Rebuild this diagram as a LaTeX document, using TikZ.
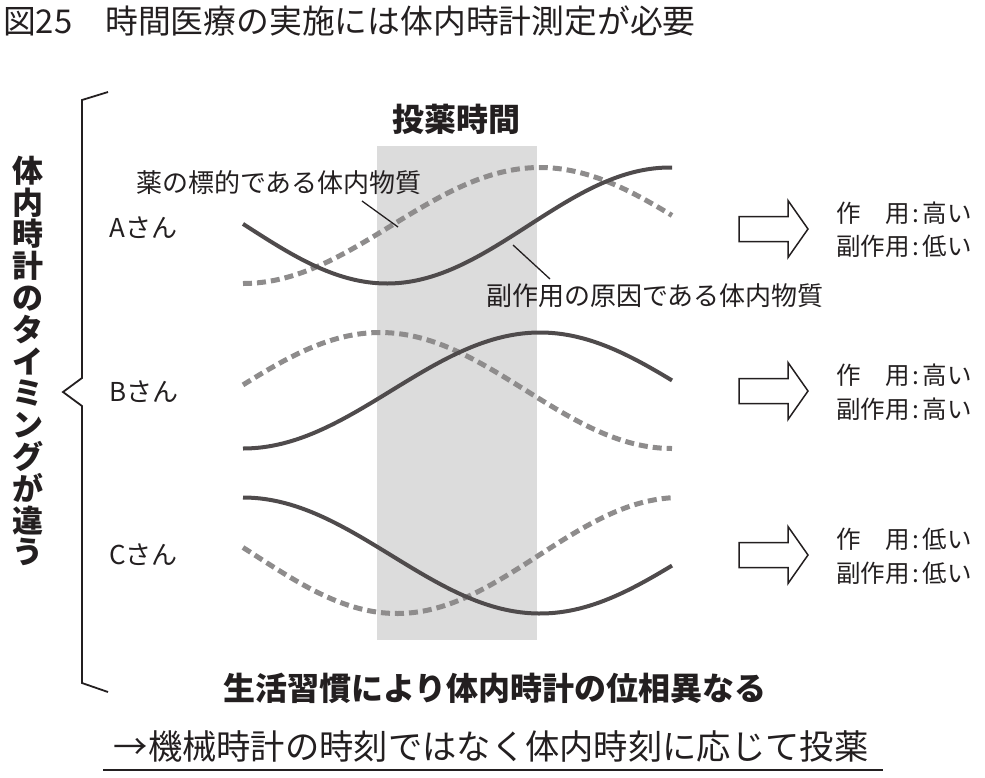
\documentclass[tikz,border=0pt]{standalone}
\usepackage{fontspec}
\setmainfont{Noto Sans CJK JP}
\definecolor{ink}{HTML}{231F20}
\definecolor{boxgray}{HTML}{DCDCDC}
\definecolor{solidgray}{HTML}{4F4B4C}
\definecolor{dashgray}{HTML}{8E8C8C}
\newcommand{\rcolon}{\kern3pt:\kern3pt}
\tikzset{
  solidc/.style={draw=solidgray, line width=4pt},
  dashc/.style={draw=dashgray, line width=5pt, dash pattern=on 9pt off 5pt},
  leader/.style={draw=ink, line width=1.3pt},
  lbl/.style={anchor=west, font=\fontsize{26}{26}\selectfont},
  res/.style={anchor=west, font=\fontsize{24.5}{24.5}\selectfont},
  barrow/.pic={\draw[ink, line width=1.5pt, line join=miter]
     (0,-12.5) -- (49,-12.5) -- (49,-28.5) -- (69,0) -- (49,28.5) -- (49,12.5) -- (0,12.5) -- cycle;}
}
\begin{document}
\begin{tikzpicture}[x=1pt,y=-1pt, every node/.style={inner sep=0pt, text=ink}]
\useasboundingbox (0,0) rectangle (985,777);
% title
\node[anchor=west, font=\fontsize{32.8}{32.8}\selectfont] (title) at (3,21) {図25　時間医療の実施には体内時計測定が必要};
% gray band
\fill[boxgray] (377,146) rectangle (537,640);
\node[font=\bfseries\fontsize{32}{32}\selectfont] (toyaku) at (456,119) {投薬時間};
% brace
\draw[ink, line width=1.8pt, line join=miter] (108,92) -- (82,100) -- (82,378) -- (63,392) -- (82,406) -- (82,683) -- (108,692);
% vertical text
\node[align=center, font=\bfseries\fontsize{31}{31.8}\selectfont] (vt) at (28,361)
  {体\\内\\時\\計\\の\\タ\\イ\\ミ\\ン\\グ\\が\\違\\う};
% person labels
\node[lbl] (pa) at (109,228) {Aさん};
\node[lbl] (pb) at (109,392) {Bさん};
\node[lbl] (pc) at (109,555) {Cさん};
% curves A
\draw[dashc] plot[domain=243:672, samples=120] (\x,{225.5-58*cos((\x-540)/297*180)});
\draw[solidc] plot[domain=243:672, samples=120] (\x,{225.5+58*cos((\x-387)/283*180)});
% curves B
\draw[dashc] plot[domain=243:672, samples=120] (\x,{390.5-58*cos((\x-380)/292*180)});
\draw[solidc] plot[domain=243:672, samples=120] (\x,{390.5-58*cos((\x-540)/297*180)});
% curves C
\draw[dashc] plot[domain=243:672, samples=120] (\x,{555.5+58*cos((\x-397)/283*180)});
\draw[solidc] plot[domain=243:672, samples=120] (\x,{555.5+58*cos((\x-540)/297*180)});
% annotations
\node[lbl] (target) at (136,183) {薬の標的である体内物質};
\coordinate (t1) at (362,201);
\coordinate (t2) at (398,227);
\draw[leader] (t1) -- (t2);
\node[lbl] (cause) at (486,296) {副作用の原因である体内物質};
\coordinate (c1) at (550,279);
\coordinate (c2) at (513,245);
\draw[leader] (c1) -- (c2);
% block arrows
\path (739,229) pic {barrow};
\path (739,391) pic {barrow};
\path (739,555) pic {barrow};
% results
\node[res] (ra1) at (836,213) {作　用\rcolon 高い};
\node[res] (ra2) at (836,246) {副作用\rcolon 低い};
\node[res] (rb1) at (836,375) {作　用\rcolon 高い};
\node[res] (rb2) at (836,409) {副作用\rcolon 高い};
\node[res] (rc1) at (836,539) {作　用\rcolon 低い};
\node[res] (rc2) at (836,573) {副作用\rcolon 低い};
% bottom
\node[font=\bfseries\fontsize{32}{32}\selectfont] (habit) at (495,688) {生活習慣により体内時計の位相異なる};
\node[font=\fontsize{34.3}{34.3}\selectfont] (concl) at (491,746) {→機械時計の時刻ではなく体内時刻に応じて投薬};
\coordinate (u1) at (103,770);
\coordinate (u2) at (883,770);
\draw[ink, line width=2pt] (u1) -- (u2);
\end{tikzpicture}
\end{document}
